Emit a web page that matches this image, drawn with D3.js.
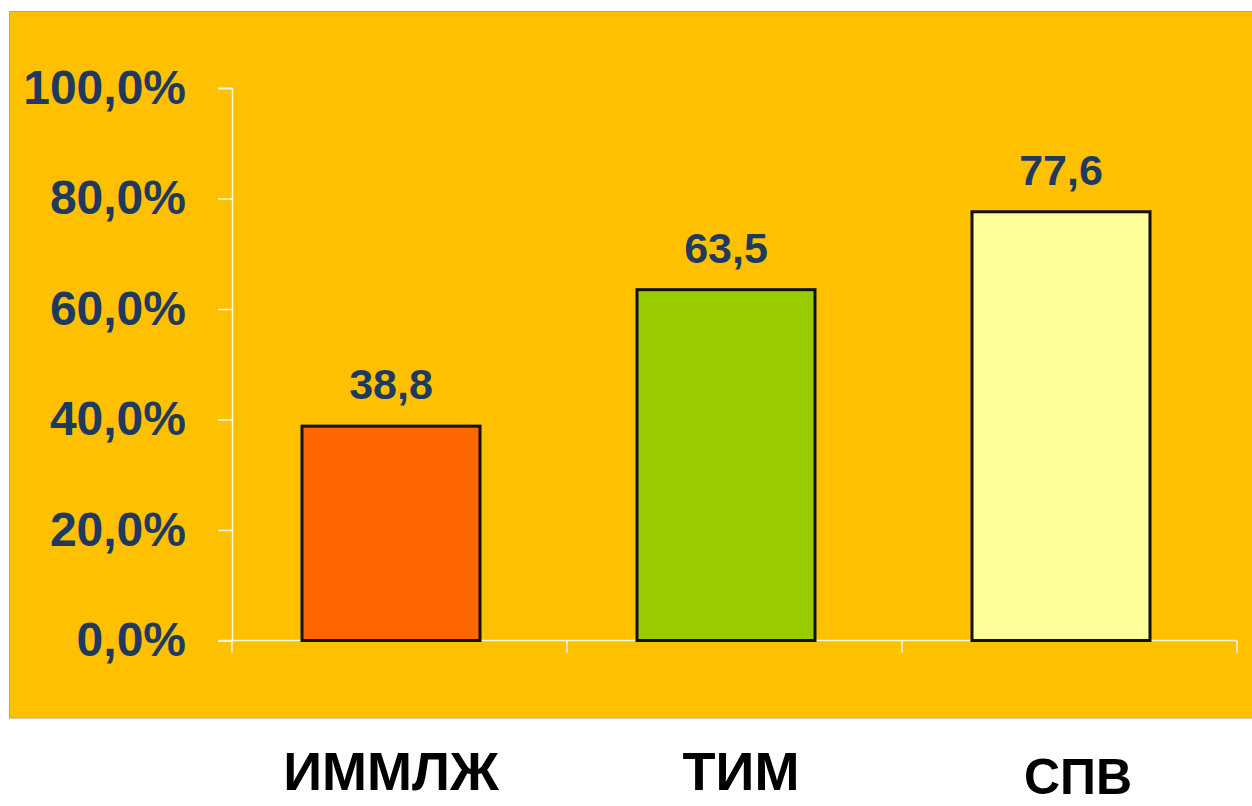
<!DOCTYPE html>
<html>
<head>
<meta charset="utf-8">
<script src="https://cdn.jsdelivr.net/npm/d3@7"></script>
<style>
  html, body { margin: 0; padding: 0; background: #ffffff; }
  svg { display: block; }
</style>
</head>
<body>
<svg id="chart" width="1252" height="806"></svg>
<script>
// Chart data
const categories = ["ИММЛЖ", "ТИМ", "СПВ"];
const values = [38.8, 63.5, 77.6];
const valueLabels = ["38,8", "63,5", "77,6"];
const barColors = ["#FF6600", "#99CC00", "#FFFF99"];
const yTicks = [0, 20, 40, 60, 80, 100];
const yTickLabels = ["0,0%", "20,0%", "40,0%", "60,0%", "80,0%", "100,0%"];

const W = 1252, H = 806;
const svg = d3.select("#chart");

// Plot background panel
svg.append("rect")
  .attr("x", 9.5).attr("y", 11.5)
  .attr("width", 1250).attr("height", 706.5)
  .attr("fill", "#FFC000")
  .attr("stroke", "#b9a57a")
  .attr("stroke-width", 1);

const plot = { left: 232, right: 1237, top: 88, bottom: 640.5 };

const x = d3.scaleBand()
  .domain(categories)
  .range([plot.left, plot.right])
  .padding(0);

const y = d3.scaleLinear()
  .domain([0, 100])
  .range([plot.bottom, plot.top]);

const barOffset = 70;   // left inset of a bar inside its band
const barWidth = 178;

// Y axis
const yAxis = svg.append("g")
  .attr("transform", `translate(${plot.left},0)`)
  .call(d3.axisLeft(y)
    .tickValues(yTicks)
    .tickSize(14)
    .tickPadding(32)
    .tickFormat((d, i) => yTickLabels[i]));
yAxis.select(".domain").attr("stroke", "#FFFBE6").attr("stroke-width", 1.5);
yAxis.selectAll(".tick line").attr("stroke", "#FFFBE6").attr("stroke-width", 1.5);
yAxis.selectAll(".tick text")
  .attr("fill", "#1F3A5F")
  .attr("font-family", "Liberation Sans, Arial, sans-serif")
  .attr("font-weight", "bold")
  .attr("font-size", 48);

// X axis
const xAxis = svg.append("g")
  .attr("transform", `translate(0,${plot.bottom})`)
  .call(d3.axisBottom(x).tickSize(0).tickFormat(""));
xAxis.select(".domain").remove();
xAxis.append("line")
  .attr("x1", plot.left - 14).attr("x2", plot.right)
  .attr("y1", 0).attr("y2", 0)
  .attr("stroke", "#FFFBE6").attr("stroke-width", 1.5);
const xBoundaries = categories.map(c => x(c)).concat([x(categories[categories.length - 1]) + x.bandwidth()]);
xAxis.selectAll(".bound")
  .data(xBoundaries)
  .join("line")
  .attr("class", "bound")
  .attr("x1", d => d).attr("x2", d => d)
  .attr("y1", 0).attr("y2", 12)
  .attr("stroke", "#FFFBE6").attr("stroke-width", 1.5);

// Bars
svg.selectAll(".bar")
  .data(values)
  .join("rect")
  .attr("class", "bar")
  .attr("x", (d, i) => x(categories[i]) + barOffset)
  .attr("y", d => y(d))
  .attr("width", barWidth)
  .attr("height", d => y(0) - y(d))
  .attr("fill", (d, i) => barColors[i])
  .attr("stroke", "#111111")
  .attr("stroke-width", 3);

// Value labels above bars
svg.selectAll(".val")
  .data(values)
  .join("text")
  .attr("class", "val")
  .attr("x", (d, i) => x(categories[i]) + barOffset + barWidth / 2)
  .attr("y", d => y(d) - 27)
  .attr("text-anchor", "middle")
  .attr("fill", "#1F3A5F")
  .attr("font-family", "Liberation Sans, Arial, sans-serif")
  .attr("font-weight", "bold")
  .attr("font-size", 43)
  .text((d, i) => valueLabels[i]);

// Category labels below the panel
const catShift = [0, 15, 17];
const catBaseline = [790, 790, 794];
const catSize = [54, 54, 50];
svg.selectAll(".cat")
  .data(categories)
  .join("text")
  .attr("class", "cat")
  .attr("x", (d, i) => x(d) + barOffset + barWidth / 2 + catShift[i])
  .attr("y", (d, i) => catBaseline[i])
  .attr("text-anchor", "middle")
  .attr("fill", "#000000")
  .attr("font-family", "Liberation Sans, Arial, sans-serif")
  .attr("font-weight", "bold")
  .attr("font-size", (d, i) => catSize[i])
  .text(d => d);
</script>
</body>
</html>
